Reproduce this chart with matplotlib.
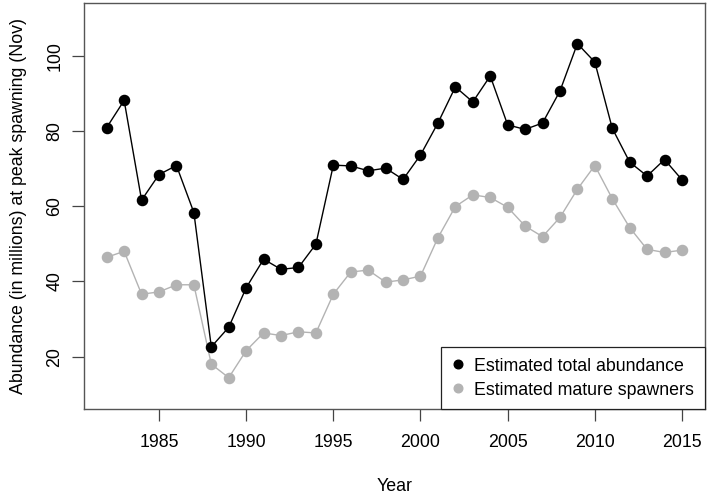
import matplotlib
matplotlib.use("Agg")
import matplotlib.pyplot as plt

plt.rcParams['font.family'] = ['Liberation Sans', 'DejaVu Sans']

# Abundance estimates (millions)
years = list(range(1982, 2016))
total_abundance = [80.9, 88.1, 61.6, 68.4, 70.8, 58.3, 22.6, 27.8, 38.3, 45.9,
                   43.2, 43.7, 49.9, 70.9, 70.7, 69.4, 70.1, 67.1, 73.6, 82.1,
                   91.7, 87.7, 94.6, 81.6, 80.4, 82.1, 90.6, 103.2, 98.3, 80.7,
                   71.7, 68.0, 72.4, 67.0]
mature_spawners = [46.4, 48.0, 36.6, 37.2, 39.1, 39.1, 18.0, 14.4, 21.6, 26.3,
                   25.6, 26.6, 26.3, 36.6, 42.5, 43.0, 39.8, 40.4, 41.4, 51.6,
                   59.9, 63.0, 62.3, 59.7, 54.7, 51.9, 57.0, 64.5, 70.8, 62.0,
                   54.3, 48.5, 47.7, 48.3]
x_ticks = [1985, 1990, 1995, 2000, 2005, 2010, 2015]
y_ticks = [20, 40, 60, 80, 100]

grey = '#b3b3b3'
fs = 12.8

fig = plt.figure(figsize=(7.09, 4.94), dpi=100)
ax = fig.add_axes([83.7 / 709, 1 - 409.3 / 494, (705 - 83.7) / 709, (409.3 - 3) / 494])

ax.plot(years, mature_spawners, color=grey, lw=1.0, marker='o', ms=7.3,
        mec=grey, mfc=grey, label='Estimated mature spawners', zorder=2)
ax.plot(years, total_abundance, color='black', lw=1.0, marker='o', ms=7.3,
        label='Estimated total abundance', zorder=3)

ax.set_xlim(1980.68, 2016.32)
ax.set_ylim(6.0, 114.0)
ax.set_xticks(x_ticks)
ax.set_yticks(y_ticks)
ax.set_yticklabels([str(v) for v in y_ticks], rotation=90, va='center')
ax.tick_params(axis='both', length=8.5, width=0.9, color='#444444',
               labelsize=fs)
ax.tick_params(axis='y', pad=6)
ax.tick_params(axis='x', pad=9)
for s in ax.spines.values():
    s.set_color('#555555')
    s.set_linewidth(1.0)

ax.set_xlabel('Year', fontsize=fs, labelpad=20)
ax.set_ylabel('Abundance (in millions) at peak spawning (Nov)', fontsize=fs, labelpad=14)

handles, labels = ax.get_legend_handles_labels()
leg = ax.legend(handles[::-1], labels[::-1], loc='lower right', fontsize=fs,
                frameon=True, fancybox=False, borderaxespad=0, handlelength=0.7,
                handletextpad=0.6, borderpad=0.6, labelspacing=0.4,
                markerscale=0.85)
for h in leg.legend_handles:
    h.set_linestyle('None')
leg.get_frame().set_edgecolor('#222222')
leg.get_frame().set_linewidth(0.9)
leg.get_frame().set_alpha(1)

fig.savefig('out.png', dpi=100)
